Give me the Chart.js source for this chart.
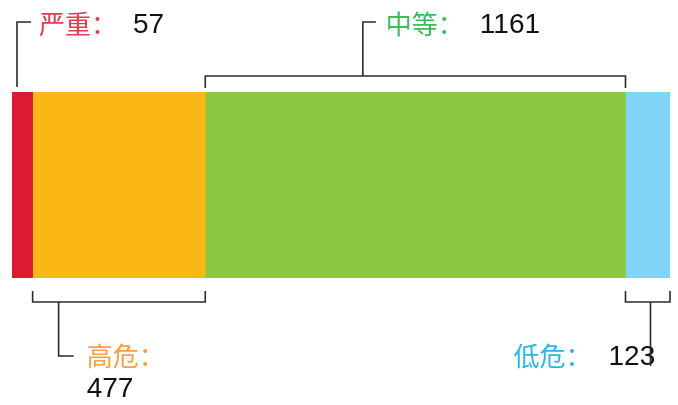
<!DOCTYPE html>
<html>
<head>
<meta charset="utf-8">
<script src="https://cdn.jsdelivr.net/npm/chart.js@4"></script>
<style>
  html, body { margin: 0; padding: 0; background: #fff; }
  #wrap { width: 678px; height: 405px; }
</style>
</head>
<body>
<div id="wrap"><canvas id="c"></canvas></div>
<script>
// data
const levels = ['严重', '高危', '中等', '低危'];
const counts = [57, 477, 1161, 123];
const barColors = ['#dc1a30', '#fbb716', '#8dc63f', '#80d4f6'];
const textColors = ['#e03a50', '#f5a043', '#3cbc5a', '#2bb4e6'];

const total = counts.reduce((a, b) => a + b, 0);

// brackets + labels drawn on top of the bar
const bracketPlugin = {
  id: 'brackets',
  afterDatasetsDraw(chart) {
    const ctx = chart.ctx;
    const x = chart.scales.x;
    const meta = chart.getDatasetMeta(0).data[0];
    const top = meta.y - meta.height / 2;
    const bottom = meta.y + meta.height / 2;

    let acc = 0;
    const spans = counts.map(v => {
      const s = { a: x.getPixelForValue(acc), b: x.getPixelForValue(acc + v) };
      acc += v;
      return s;
    });

    ctx.save();
    ctx.strokeStyle = '#2a2a2a';
    ctx.lineWidth = 1.6;

    function label(i, tx, ty, vx, vy) {
      ctx.textBaseline = 'middle';
      ctx.textAlign = 'left';
      ctx.font = '26px "Noto Sans CJK SC"';
      ctx.fillStyle = textColors[i];
      ctx.fillText(levels[i] + '：', tx, ty);
      ctx.font = '28px "Liberation Sans", Arial';
      ctx.fillStyle = '#111';
      ctx.fillText(String(counts[i]), vx, vy);
    }

    // 严重 (above, single line from left edge)
    const s0 = spans[0];
    ctx.beginPath();
    ctx.moveTo(s0.a + 5, top - 5);
    ctx.lineTo(s0.a + 5, top - 70);
    ctx.lineTo(s0.a + 19, top - 70);
    ctx.stroke();
    label(0, s0.a + 27, top - 68, s0.a + 121, top - 67);

    // 中等 (above, bracket)
    const s2 = spans[2];
    const midTop = top - 16;
    const c2 = s2.a + (s2.b - s2.a) * 0.375;
    ctx.beginPath();
    ctx.moveTo(s2.a, top - 4);
    ctx.lineTo(s2.a, midTop);
    ctx.lineTo(s2.b, midTop);
    ctx.lineTo(s2.b, top - 4);
    ctx.moveTo(c2, midTop);
    ctx.lineTo(c2, top - 70);
    ctx.lineTo(c2 + 13, top - 70);
    ctx.stroke();
    label(2, c2 + 23, top - 68, c2 + 117, top - 67);

    // 高危 (below, bracket)
    const s1 = spans[1];
    const botY = bottom + 24;
    const c1 = s1.a + 26;
    ctx.beginPath();
    ctx.moveTo(s1.a, bottom + 13);
    ctx.lineTo(s1.a, botY);
    ctx.lineTo(s1.b, botY);
    ctx.lineTo(s1.b, bottom + 13);
    ctx.moveTo(c1, botY);
    ctx.lineTo(c1, bottom + 78);
    ctx.lineTo(c1 + 15, bottom + 78);
    ctx.stroke();
    label(1, c1 + 28, bottom + 78, c1 + 28, bottom + 111);

    // 低危 (below, bracket)
    const s3 = spans[3];
    const c3 = s3.a + 25;
    ctx.beginPath();
    ctx.moveTo(s3.a, bottom + 13);
    ctx.lineTo(s3.a, botY);
    ctx.lineTo(s3.b, botY);
    ctx.lineTo(s3.b, bottom + 13);
    ctx.stroke();
    label(3, s3.a - 112, bottom + 78, s3.a - 17, bottom + 79);
    ctx.beginPath();
    ctx.moveTo(c3, botY);
    ctx.lineTo(c3, bottom + 88);
    ctx.stroke();

    ctx.restore();
  }
};

new Chart(document.getElementById('c'), {
  type: 'bar',
  data: {
    labels: [''],
    datasets: levels.map((name, i) => ({
      label: name,
      data: [counts[i]],
      backgroundColor: barColors[i],
      borderWidth: 0,
      barPercentage: 1,
      categoryPercentage: 1
    }))
  },
  options: {
    indexAxis: 'y',
    responsive: true,
    maintainAspectRatio: false,
    animation: false,
    layout: { padding: { left: 12, right: 8, top: 92, bottom: 127 } },
    scales: {
      x: { stacked: true, min: 0, max: total, display: false },
      y: { stacked: true, display: false }
    },
    plugins: { legend: { display: false }, tooltip: { enabled: false } }
  },
  plugins: [bracketPlugin]
});
</script>
</body>
</html>
